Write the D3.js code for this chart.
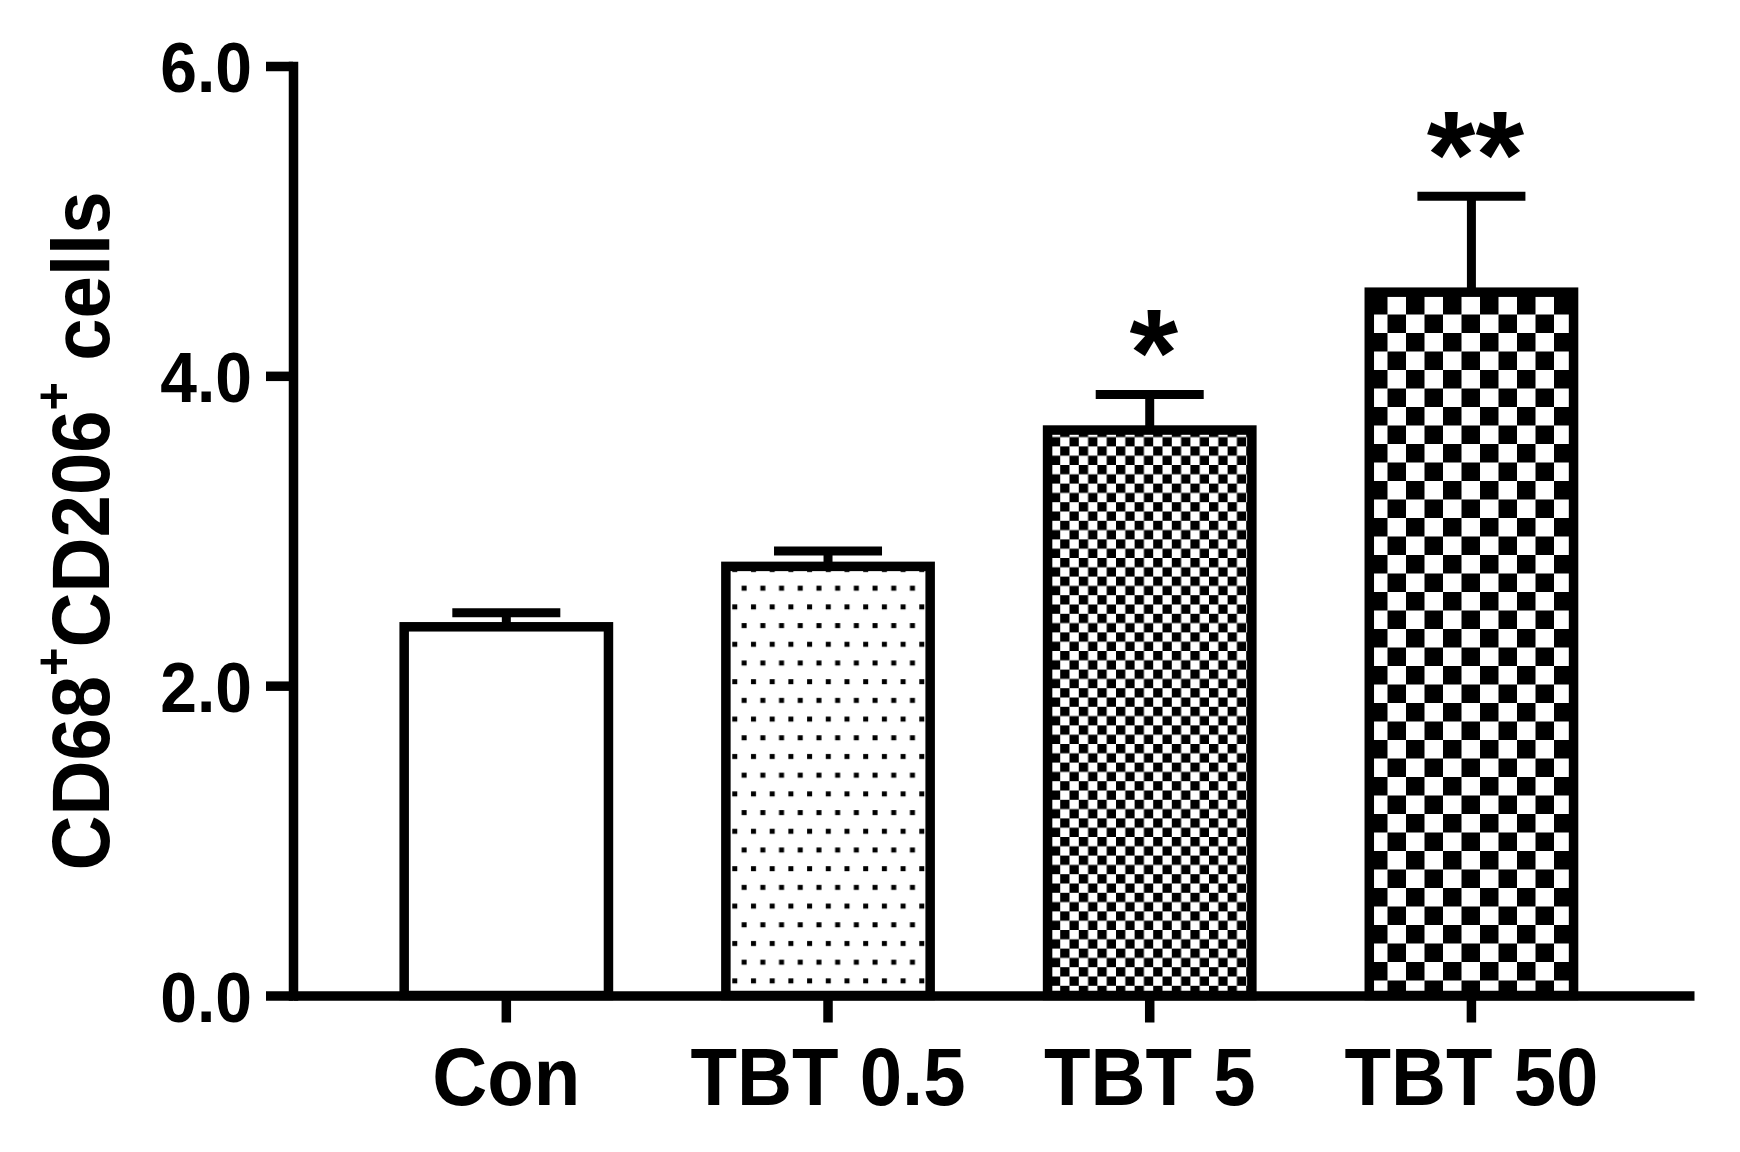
<!DOCTYPE html>
<html>
<head>
<meta charset="utf-8">
<script src="https://cdn.jsdelivr.net/npm/d3@7"></script>
<style>
  body { margin: 0; background: #fff; }
  text { font-family: "Liberation Sans", Arial, sans-serif; font-weight: bold; fill: #000; }
</style>
</head>
<body>
<div id="chart"></div>
<script>
// data
const categories = ["Con", "TBT 0.5", "TBT 5", "TBT 50"];
const means = [2.38, 2.77, 3.65, 4.54];
const sems = [0.09, 0.10, 0.23, 0.62];
const stars = ["", "", "*", "**"];
const yTicks = [0, 2, 4, 6];

const W = 1740, H = 1152;
const data = categories.map((c, i) => ({ name: c, mean: means[i], sem: sems[i], star: stars[i], idx: i }));

const svg = d3.select("#chart")
    .append("svg")
    .attr("width", W)
    .attr("height", H);

// fill patterns (plain, dots, small checker, big checker)
const defs = svg.append("defs");

const dots = defs.append("pattern")
    .attr("id", "dots")
    .attr("patternUnits", "userSpaceOnUse")
    .attr("width", 18.7).attr("height", 37.4);
dots.append("rect").attr("width", 18.7).attr("height", 37.4).attr("fill", "#fff");
dots.append("rect").attr("x", 3).attr("y", 6).attr("width", 5).attr("height", 5).attr("fill", "#000");
dots.append("rect").attr("x", 12.35).attr("y", 24.7).attr("width", 5).attr("height", 5).attr("fill", "#000");

function checker(id, cell, ox, oy) {
    const p = defs.append("pattern")
        .attr("id", id)
        .attr("patternUnits", "userSpaceOnUse")
        .attr("x", ox).attr("y", oy)
        .attr("width", cell * 2).attr("height", cell * 2);
    p.append("rect").attr("width", cell * 2).attr("height", cell * 2).attr("fill", "#fff");
    p.append("rect").attr("width", cell).attr("height", cell).attr("fill", "#000");
    p.append("rect").attr("x", cell).attr("y", cell).attr("width", cell).attr("height", cell).attr("fill", "#000");
}
checker("checkS", 9.3, 0, 0);
checker("checkL", 18.5, 0, 0);

const fills = ["#fff", "url(#dots)", "url(#checkS)", "url(#checkL)"];

// scales
const y = d3.scaleLinear().domain([0, 6]).range([995.5, 66]);
const x = d3.scaleBand()
    .domain(categories)
    .range([293, 1694])
    .paddingInner(0.365)
    .paddingOuter(0.36)
    .align(0.48);

const cx = d => x(d.name) + x.bandwidth() / 2;
const capW = 108;

// squeeze glyphs a little so the text looks tall and narrow like the original
function narrow(sel, k) {
    sel.each(function () {
        const w = this.getComputedTextLength();
        d3.select(this).attr("textLength", w * k).attr("lengthAdjust", "spacingAndGlyphs");
    });
}

// error bars (drawn first so the bar outline covers the stem foot)
const err = svg.append("g").attr("stroke", "#000").attr("stroke-width", 9);
err.selectAll(".stem")
    .data(data)
    .enter()
    .append("line")
    .attr("x1", cx).attr("x2", cx)
    .attr("y1", d => y(d.mean))
    .attr("y2", d => y(d.mean + d.sem));
err.selectAll(".cap")
    .data(data)
    .enter()
    .append("line")
    .attr("x1", d => cx(d) - capW / 2)
    .attr("x2", d => cx(d) + capW / 2)
    .attr("y1", d => y(d.mean + d.sem))
    .attr("y2", d => y(d.mean + d.sem));

// bars
svg.selectAll(".bar")
    .data(data)
    .enter()
    .append("rect")
    .attr("class", "bar")
    .attr("x", d => x(d.name))
    .attr("y", d => y(d.mean))
    .attr("width", x.bandwidth())
    .attr("height", d => y(0) - y(d.mean))
    .attr("fill", d => fills[d.idx])
    .attr("stroke", "#000")
    .attr("stroke-width", 9.5);

// significance marks
svg.selectAll(".star")
    .data(data.filter(d => d.star))
    .enter()
    .append("text")
    .attr("class", "star")
    .attr("x", d => cx(d) + 4)
    .attr("y", d => y(d.mean + d.sem) + 2)
    .attr("text-anchor", "middle")
    .style("font-size", "125px")
    .text(d => d.star);

// y axis
const yAxis = svg.append("g")
    .attr("transform", `translate(${x.range()[0]},0)`)
    .call(d3.axisLeft(y).tickValues(yTicks).tickFormat(d3.format(".1f")).tickSize(27).tickSizeOuter(0).tickPadding(14));
yAxis.select(".domain").attr("stroke-width", 9.5).attr("stroke-linecap", "square");
yAxis.selectAll(".tick line").attr("stroke-width", 9.5);
yAxis.selectAll(".tick text").style("font-size", "71px").attr("dy", "0.36em").call(narrow, 0.93);

// x axis
const xAxis = svg.append("g")
    .attr("transform", `translate(0,${y(0)})`)
    .call(d3.axisBottom(x).tickSize(27).tickSizeOuter(0).tickPadding(25));
xAxis.select(".domain").attr("stroke-width", 9.5);
xAxis.selectAll(".tick line").attr("stroke-width", 9.5);
xAxis.selectAll(".tick text").style("font-size", "81px").attr("dy", "0.71em").call(narrow, 0.94);

// y axis title
const title = svg.append("text")
    .attr("transform", "translate(109,531) rotate(-90) scale(0.94,1)")
    .attr("text-anchor", "middle")
    .style("font-size", "81px");
title.append("tspan").text("CD68");
title.append("tspan").attr("dy", -38).style("font-size", "52px").text("+");
title.append("tspan").attr("dy", 38).text("CD206");
title.append("tspan").attr("dy", -38).style("font-size", "52px").text("+");
title.append("tspan").attr("dy", 38).text(" cells");
</script>
</body>
</html>
